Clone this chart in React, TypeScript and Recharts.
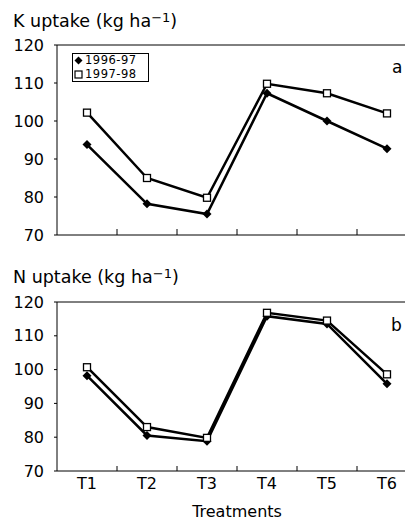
import React from 'react';
import { LineChart, Line, XAxis, YAxis, ReferenceLine } from 'recharts';

const treatments = ['T1', 'T2', 'T3', 'T4', 'T5', 'T6'];
const seriesNames = ['1996-97', '1997-98'];
const k9697 = [93.8, 78.2, 75.5, 107.3, 100.0, 92.7];
const k9798 = [102.2, 85.0, 79.8, 109.8, 107.3, 102.0];
const n9697 = [98.2, 80.5, 78.8, 115.8, 113.5, 95.8];
const n9798 = [100.7, 83.0, 79.8, 116.8, 114.5, 98.6];
const yTicks = [70, 80, 90, 100, 110, 120];

const FONT = '"DejaVu Sans", sans-serif';

const kData = treatments.map((t, i) => ({ pos: i + 0.5, name: t, a: k9697[i], b: k9798[i] }));
const nData = treatments.map((t, i) => ({ pos: i + 0.5, name: t, a: n9697[i], b: n9798[i] }));
const boundaryTicks = treatments.slice(1).map((_, i) => i + 1);
const centerTicks = treatments.map((_, i) => i + 0.5);
const allTicks = [...centerTicks, ...boundaryTicks].sort((x, y) => x - y);

const Diamond = (props: any) => {
  const { cx, cy } = props;
  if (cx == null || cy == null) return null;
  const r = 4.5;
  return <polygon points={`${cx},${cy - r} ${cx + r},${cy} ${cx},${cy + r} ${cx - r},${cy}`} fill="#000" />;
};
const Square = (props: any) => {
  const { cx, cy } = props;
  if (cx == null || cy == null) return null;
  const s = 7;
  return <rect x={cx - s / 2} y={cy - s / 2} width={s} height={s} fill="#fff" stroke="#000" strokeWidth={1.3} />;
};

const makeTick = (len: number, withLabels: boolean) => (props: any) => {
  const { x, y, payload } = props;
  const v = payload.value;
  if (Number.isInteger(v)) {
    return <line x1={x} x2={x} y1={y} y2={y - len} stroke="#000" strokeWidth={1} />;
  }
  if (!withLabels) return <g />;
  const idx = Math.floor(v);
  return (
    <text x={x} y={y + 18} textAnchor="middle" fontFamily={FONT} fontSize={16} fill="#000">
      {treatments[idx]}
    </text>
  );
};

const yTickStyle = { fontFamily: FONT, fontSize: 16, fill: '#000' };

const Panel = ({ data, top, height, mTop, mBottom, xHeight, tickLen, labels }: any) => (
  <div style={{ position: 'absolute', left: 0, top }}>
    <LineChart width={440} height={height} data={data} margin={{ top: mTop, right: 23, bottom: mBottom, left: 0 }}>
      <XAxis
        dataKey="pos"
        type="number"
        domain={[0, 6]}
        ticks={labels ? allTicks : boundaryTicks}
        interval={0}
        tickSize={0}
        tickMargin={0}
        tickLine={false}
        axisLine={{ stroke: '#000', strokeWidth: 1 }}
        tick={makeTick(tickLen, labels)}
        height={xHeight}
      />
      <YAxis
        type="number"
        domain={[70, 120]}
        ticks={yTicks}
        interval={0}
        width={57}
        tickSize={3}
        tickMargin={10}
        tickLine={{ stroke: '#000' }}
        axisLine={{ stroke: '#000', strokeWidth: 1 }}
        tick={yTickStyle}
      />
      <ReferenceLine y={120} stroke="#000" strokeWidth={1} ifOverflow="visible" />
      <Line dataKey="a" name={seriesNames[0]} stroke="#000" strokeWidth={2.5} dot={<Diamond />} isAnimationActive={false} />
      <Line dataKey="b" name={seriesNames[1]} stroke="#000" strokeWidth={2.5} dot={<Square />} isAnimationActive={false} />
    </LineChart>
  </div>
);

const LegendBox = () => (
  <div
    style={{
      position: 'absolute', left: 72, top: 53, width: 77, height: 29, border: '1px solid #000',
      background: '#fff', fontFamily: FONT, fontSize: 11.5, lineHeight: '13.5px', boxSizing: 'border-box',
      letterSpacing: 0.5,
    }}
  >
    {seriesNames.map((n, i) => (
      <div key={n} style={{ display: 'flex', alignItems: 'center', height: 13.5, paddingLeft: 1 }}>
        <svg width={10} height={9} style={{ marginRight: 1, flex: 'none' }}>
          {i === 0 ? (
            <polygon points="4.5,0.5 8.5,4.5 4.5,8.5 0.5,4.5" fill="#000" />
          ) : (
            <rect x={1} y={1} width={7} height={7} fill="#fff" stroke="#000" strokeWidth={1.2} />
          )}
        </svg>
        <span>{n}</span>
      </div>
    ))}
  </div>
);

const Title = ({ letter, top }: any) => (
  <div style={{ position: 'absolute', left: 13, top, fontFamily: FONT, fontSize: 17.5, lineHeight: '20px', whiteSpace: 'nowrap' }}>
    {letter} uptake (kg ha<span style={{ fontSize: 13, position: 'relative', top: -5 }}>−1</span>)
  </div>
);

export default function App() {
  return (
    <div style={{ position: 'absolute', left: 0, top: 0, width: 405, height: 521, overflow: 'hidden', background: '#fff' }}>
      <Title letter="K" top={11} />
      <Panel data={kData} top={0} height={250} mTop={45} mBottom={14} xHeight={1} tickLen={6} labels={false} />
      <LegendBox />
      <div style={{ position: 'absolute', left: 392, top: 57, fontFamily: FONT, fontSize: 17 }}>a</div>
      <Title letter="N" top={267} />
      <Panel data={nData} top={250} height={271} mTop={52} mBottom={0} xHeight={50} tickLen={5} labels={true} />
      <div style={{ position: 'absolute', left: 391, top: 315, fontFamily: FONT, fontSize: 17 }}>b</div>
      <div style={{ position: 'absolute', left: 0, width: 474, top: 502, textAlign: 'center', fontFamily: FONT, fontSize: 16 }}>
        Treatments
      </div>
    </div>
  );
}
